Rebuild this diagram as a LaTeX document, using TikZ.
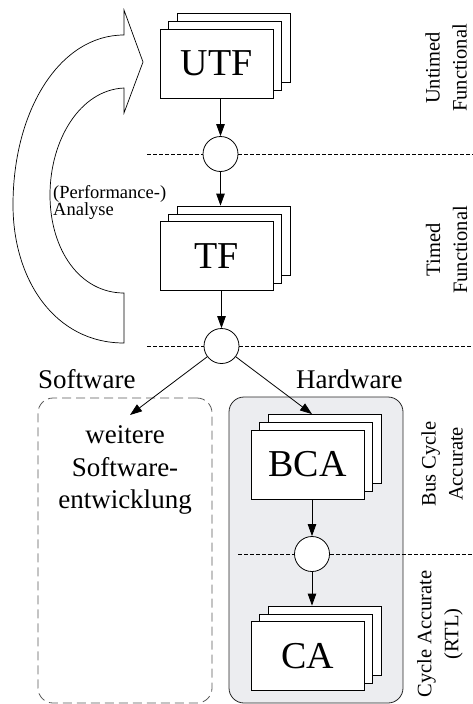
\documentclass[tikz,border=0pt]{standalone}
\usepackage{fontspec}
\setmainfont{Liberation Serif}
\usetikzlibrary{arrows.meta}
\definecolor{hwfill}{RGB}{236,237,240}
\newcommand\cardstack[4]{%
  \node[card] (#1b) at (#2+17,#3-15.5) {};
  \node[card] (#1m) at (#2+8.5,#3-7.5) {};
  \node[card] (#1) at (#2,#3) {#4};}
\begin{document}
\begin{tikzpicture}[x=1pt,y=-1pt,
  card/.style={draw,fill=white,line width=0.8pt,minimum width=113pt,minimum height=69pt,inner sep=0pt,font=\fontsize{38}{40}\selectfont},
  junc/.style={draw,fill=white,circle,minimum size=35pt,inner sep=0pt,line width=0.8pt},
  flow/.style={-{Triangle[length=12pt,width=8.5pt]},line width=0.8pt},
  level/.style={dash pattern=on 4pt off 2pt,line width=0.6pt},
  side/.style={rotate=90,align=center,font=\fontsize{20.5}{27}\selectfont},
  big/.style={font=\fontsize{27}{32.5}\selectfont}]
\useasboundingbox (0,0) rectangle (473,704);
% domain boxes
\node[draw=black!65, line width=0.8pt, dash pattern=on 9pt off 5pt, rounded corners=15pt,
      minimum width=174pt, minimum height=305pt, inner sep=0pt] (swbox) at (125,550.5) {};
\node[draw=black!85, fill=hwfill, line width=0.8pt, rounded corners=15pt,
      minimum width=174pt, minimum height=306pt, inner sep=0pt] (hwbox) at (316,550) {};
% big analysis arrow
\draw[line width=0.7pt, fill=white]
  (124,35) -- (124,10) -- (143,62) -- (124,113) -- (124,88)
  .. controls (80,90) and (50,140) .. (50,195)
  .. controls (50,250) and (80,293) .. (124,293)
  -- (124,343)
  .. controls (55,343) and (13,280) .. (13,205)
  .. controls (13,110) and (60,35) .. (124,35) -- cycle;
% junctions
\node[junc] (c1) at (220.5,154) {};
\node[junc] (c2) at (221.5,346) {};
\node[junc] (c3) at (312,554) {};
% level lines
\coordinate (l1) at (147,154); \coordinate (r1) at (473,154);
\coordinate (l2) at (147,346); \coordinate (r2) at (473,346);
\coordinate (l3) at (238,554); \coordinate (r3) at (473,554);
\draw[level] (l1) -- (c1.west) (c1.east) -- (r1);
\draw[level] (l2) -- (c2.west) (c2.east) -- (r2);
\draw[level] (l3) -- (c3.west) (c3.east) -- (r3);
% stacks
\cardstack{UTF}{216.5}{63.5}{UTF}
\cardstack{TF}{216.5}{256}{TF}
\cardstack{BCA}{307.5}{464.5}{BCA}
\cardstack{CA}{307.5}{656}{CA}
% arrows
\draw[flow] (UTF.south -| c1) -- (c1.north);
\draw[flow] (c1.south) -- (c1.south |- TFb.north);
\draw[flow] (TF.south -| c2) -- (c2.north);
\coordinate (swtip) at (130,415);
\draw[flow] (c2.-143) -- (swtip);
\draw[flow] (c2.-37) -- (BCAb.north -| c3);
\draw[flow] (BCA.south -| c3) -- (c3.north);
\draw[flow] (c3.south) -- (c3.south |- CAb.north);
% texts
\node[big, anchor=base west, inner sep=0pt] (swlab) at (38,388) {Software};
\node[big, anchor=base west, inner sep=0pt] (hwlab) at (296,388) {Hardware};
\node[big, align=center, inner sep=0pt] (swtext) at (125,470) {weitere\\Software-\\entwicklung};
\node[align=left, anchor=west, inner sep=0pt, font=\fontsize{18.5}{17}\selectfont] (ana) at (53,202.5) {(Performance-)\\Analyse};
\node[side] (lv1) at (446,68) {Untimed\\Functional};
\node[side] (lv2) at (446.5,250) {Timed\\Functional};
\node[side] (lv3) at (442,464) {Bus Cycle\\Accurate};
\node[side] (lv4) at (440,634) {Cycle Accurate\\(RTL)};
\end{tikzpicture}
\end{document}
